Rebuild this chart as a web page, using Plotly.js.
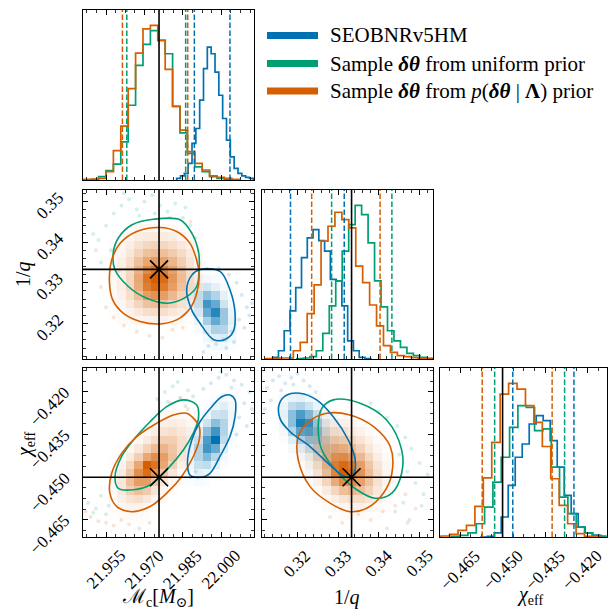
<!DOCTYPE html>
<html><head><meta charset="utf-8">
<script src="https://cdn.plot.ly/plotly-3.0.1.min.js"></script>
<style>body{margin:0;padding:0;background:#fff}#plot{width:608px;height:610px}</style>
</head><body><div id="plot"></div><script>
// ---------------- data ----------------
const seriesNames = ['SEOBNRv5HM',
  'Sample <b><i>δθ</i></b> from uniform prior',
  'Sample <b><i>δθ</i></b> from <i>p</i>(<b><i>δθ</i></b> | <b>Λ</b>) prior'];
const truthMc = 21.9757, truthQ = 0.3333, truthChi = -0.450;

const mcRange = [21.946, 22.0128];
const qXRange = [0.3113, 0.3533];
const qYRange = [0.3113, 0.3528];
const chiXRange = [-0.4721, -0.4133];
const chiYRange = [-0.4710, -0.4116];

const mcTicks = [21.955, 21.970, 21.985, 22.000];
const qTicks = [0.32, 0.33, 0.34, 0.35];
const chiTicks = [-0.465, -0.450, -0.435, -0.420];

// 1D histograms: bin start, bin width, heights
const mcBlueStart = 21.98259, mcBlueWidth = 0.0014974;
const mcBlueHist = [.01,.024,.039,.098,.216,.304,.471,.657,.784,.745,.637,.5,.363,.235,.137,.069,.039,.024,.016,.01];
const mcGreenStart = 21.94631, mcGreenWidth = 0.0028906;
const mcGreenHist = [0,.003,.02,.055,.094,.225,.441,.676,.80,.882,.824,.745,.435,.278,.157,.078,.049,.02,.01,.004];
const mcOrangeStart = 21.94631, mcOrangeWidth = 0.0028906;
const mcOrangeHist = [.004,.006,.01,.049,.173,.318,.539,.749,.892,.912,.824,.653,.435,.294,.167,.098,.059,.024,.016,.01,.004];

const qBlueStart = 0.31392, qBlueWidth = 0.0014169;
const qBlueHist = [.01,.049,.168,.286,.424,.602,.72,.769,.704,.641,.473,.464,.316,.108,.049,.01,.002];
const qGreenStart = 0.31988, qGreenWidth = 0.0015889;
const qGreenHist = [.002,.006,.014,.049,.152,.316,.464,.641,.799,.913,.858,.69,.464,.31,.168,.108,.069,.034,.02,.01,.004];
const qOrangeStart = 0.31218, qOrangeWidth = 0.0017035;
const qOrangeHist = [.002,.002,.006,.006,.049,.099,.27,.44,.70,.789,.872,.828,.779,.552,.454,.321,.197,.079,.039,.02,.014,.008,.004,.002];

const chiBlueStart = -0.45789, chiBlueWidth = 0.0024709;
const chiBlueHist = [0,.004,.024,.119,.307,.475,.554,.673,.723,.693,.574,.416,.248,.139,.059,.024,.01,.004,0];
const chiGreenStart = -0.46812, chiGreenWidth = 0.0029415;
const chiGreenHist = [.004,.01,.024,.079,.178,.327,.475,.653,.782,.772,.634,.644,.416,.238,.139,.059,.024,.01,.004];
const chiOrangeStart = -0.47466, chiOrangeWidth = 0.0029768;
const chiOrangeHist = [.002,.006,.016,.04,.069,.182,.352,.564,.851,.915,.881,.782,.683,.539,.347,.188,.079,.02,.004,0];

// 5% / 95% quantiles [blue, green, orange]
const mcQuant = [[21.9895, 22.0034], [21.9631, 21.9861], [21.9614, 21.9869]];
const qQuant = [[0.3183, 0.3315], [0.3284, 0.3432], [0.3235, 0.3403]];
const chiQuant = [[-0.4464, -0.4248], [-0.4528, -0.4281], [-0.4572, -0.4325]];

// 2D densities (20x20 bins over the axis range; sub-block: start row from top, start col)
const mcQOrange = [
 [0,0,.03,.05,.06,.06,.05,.04,.02,0,0],
 [0,.03,.06,.1,.12,.13,.12,.1,.07,.04,.02],
 [.02,.05,.1,.18,.24,.27,.25,.2,.14,.08,.04],
 [.03,.07,.15,.27,.38,.42,.4,.32,.22,.12,.05],
 [.04,.09,.2,.38,.55,.62,.58,.45,.3,.16,.07],
 [.04,.1,.24,.48,.72,.85,.78,.58,.38,.2,.08],
 [.04,.1,.26,.55,.85,1,.9,.65,.42,.22,.09],
 [.04,.1,.25,.52,.8,.92,.82,.6,.38,.2,.08],
 [.03,.08,.2,.4,.6,.68,.6,.44,.28,.15,.06],
 [.02,.06,.14,.26,.38,.42,.38,.28,.18,.1,.04],
 [.01,.04,.08,.14,.2,.22,.2,.15,.1,.05,.02],
 [0,.02,.04,.06,.08,.09,.08,.06,.04,.02,0]];
const mcQOrangeRow0 = 4, mcQOrangeCol0 = 3;
const mcQBlue = [
 [0,.03,.05,.03,0,0],
 [.03,.1,.18,.1,.03,0],
 [.04,.22,.45,.3,.1,.02],
 [.03,.22,.75,.6,.2,.04],
 [.02,.15,.6,.85,.4,.07],
 [0,.08,.35,.6,.4,.1],
 [0,.03,.15,.32,.3,.08],
 [0,0,.05,.12,.15,.05],
 [0,0,.02,.04,.05,.02]];
const mcQBlueRow0 = 10, mcQBlueCol0 = 12;

const mcChiOrange = [
 [0,0,0,0,0,.02,.04,.05,.04,.03,.01],
 [0,0,0,0,.02,.05,.09,.11,.09,.05,.02],
 [0,0,0,.02,.05,.1,.17,.2,.15,.08,.03],
 [0,0,.02,.05,.12,.22,.3,.3,.2,.09,.02],
 [0,.02,.05,.14,.28,.42,.45,.35,.2,.07,.01],
 [.01,.04,.12,.3,.55,.7,.6,.38,.16,.04,0],
 [.02,.08,.25,.55,1,.85,.55,.28,.09,.02,0],
 [.03,.12,.35,.7,.9,.65,.35,.14,.04,0,0],
 [.04,.15,.4,.6,.6,.38,.16,.05,.01,0,0],
 [.04,.14,.3,.4,.32,.17,.06,.02,0,0,0],
 [.03,.09,.17,.2,.14,.06,.02,0,0,0,0],
 [.02,.05,.08,.08,.05,.02,0,0,0,0,0],
 [.01,.02,.03,.03,.02,0,0,0,0,0,0]];
const mcChiOrangeRow0 = 5, mcChiOrangeCol0 = 3;
const mcChiBlue = [
 [0,0,0,.02,.05,.03],
 [0,0,.02,.08,.12,.05],
 [0,.02,.06,.2,.22,.06],
 [0,.04,.2,.45,.3,.05],
 [.02,.1,.45,.75,.3,.03],
 [.03,.2,.7,1,.25,.02],
 [.05,.3,.75,.6,.12,0],
 [.05,.3,.5,.28,.05,0],
 [.05,.22,.25,.1,.02,0],
 [.03,.1,.08,.03,0,0],
 [.01,.03,.02,0,0,0]];
const mcChiBlueRow0 = 3, mcChiBlueCol0 = 12;

const qChiOrange = [
 [0,.02,.03,.04,.04,.03,.02,0,0,0,0,0],
 [.02,.04,.07,.09,.1,.09,.06,.03,.01,0,0,0],
 [.03,.07,.12,.17,.2,.18,.13,.08,.04,.02,0,0],
 [.04,.1,.18,.28,.33,.32,.25,.16,.08,.03,.01,0],
 [.04,.11,.24,.4,.5,.5,.42,.28,.15,.06,.02,0],
 [.03,.1,.25,.48,.68,.72,.62,.44,.25,.11,.04,.01],
 [.02,.08,.22,.48,.8,.92,.82,.6,.36,.17,.06,.02],
 [.01,.05,.16,.4,.75,1,.9,.68,.42,.2,.07,.02],
 [0,.03,.09,.26,.52,.72,.72,.58,.38,.19,.07,.02],
 [0,.01,.04,.12,.26,.4,.45,.4,.28,.14,.05,.01],
 [0,0,.02,.05,.1,.17,.22,.22,.17,.09,.03,0],
 [0,0,0,.02,.04,.06,.08,.09,.07,.04,.01,0],
 [0,0,0,0,.01,.02,.03,.03,.02,.01,0,0]];
const qChiOrangeRow0 = 5, qChiOrangeCol0 = 4;
const qChiBlue = [
 [.03,.08,.1,.06,.02,0,0,0,0],
 [.08,.25,.3,.2,.08,.02,0,0,0],
 [.1,.45,.7,.5,.22,.06,.01,0,0],
 [.08,.45,.9,.8,.4,.12,.03,0,0],
 [.04,.3,.65,.7,.5,.2,.05,.01,0],
 [.02,.12,.32,.45,.42,.25,.08,.02,0],
 [0,.04,.12,.22,.28,.22,.1,.03,0],
 [0,.01,.04,.08,.14,.15,.1,.04,.01],
 [0,0,.01,.03,.05,.07,.06,.04,.01],
 [0,0,0,.01,.02,.03,.03,.02,0]];
const qChiBlueRow0 = 3, qChiBlueCol0 = 2;

// outlying samples (faint points outside the contours)
const mcQGreenPtsX = [21.952,21.955,21.958,21.961,21.964,21.967,21.970,21.973,21.976,21.979,21.982,21.985,21.988,21.957,21.962,21.968,21.974,21.980,21.986,21.953,21.950,21.990];
const mcQGreenPtsY = [0.3405,0.3440,0.3470,0.3490,0.3505,0.3480,0.3500,0.3515,0.3490,0.3475,0.3495,0.3460,0.3440,0.3380,0.3520,0.3465,0.3470,0.3460,0.3485,0.3350,0.3420,0.3410];
const mcQBluePtsX = [21.999,22.003,22.006,22.008,22.010,22.007,22.004,22.001,21.998,22.009,22.011,21.995,22.005,22.002,22.012,21.993];
const mcQBluePtsY = [0.3335,0.3320,0.3300,0.3270,0.3240,0.3210,0.3180,0.3160,0.3150,0.3190,0.3220,0.3145,0.3155,0.3140,0.3250,0.3130];
const mcQOrangePtsX = [21.955,21.958,21.962,21.967,21.972,21.977,21.981,21.953,21.960,21.985,21.951,21.988];
const mcQOrangePtsY = [0.3240,0.3215,0.3195,0.3180,0.3170,0.3165,0.3185,0.3290,0.3330,0.3190,0.3380,0.3450];

const mcChiGreenPtsX = [21.948,21.951,21.953,21.956,21.950,21.955,21.978,21.981,21.984,21.987,21.983,21.979,21.986,21.989,21.975];
const mcChiGreenPtsY = [-0.4590,-0.4610,-0.4565,-0.4600,-0.4625,-0.4630,-0.4200,-0.4180,-0.4220,-0.4195,-0.4165,-0.4235,-0.4250,-0.4215,-0.4225];
const mcChiOrangePtsX = [21.949,21.952,21.955,21.958,21.961,21.964,21.968,21.980,21.984,21.987,21.972,21.947];
const mcChiOrangePtsY = [-0.4640,-0.4655,-0.4660,-0.4670,-0.4650,-0.4665,-0.4680,-0.4240,-0.4225,-0.4260,-0.4660,-0.4620];
const mcChiBluePtsX = [21.993,21.996,21.999,22.002,22.005,22.008,22.011,22.009,22.007,22.010,22.006,21.990,21.988,22.012,22.000,22.004];
const mcChiBluePtsY = [-0.4190,-0.4170,-0.4150,-0.4140,-0.4160,-0.4175,-0.4200,-0.4240,-0.4290,-0.4320,-0.4350,-0.4480,-0.4500,-0.4260,-0.4130,-0.4185];

const qChiBluePtsX = [0.3125,0.3140,0.3155,0.3170,0.3185,0.3200,0.3215,0.3230,0.3245,0.3135,0.3160,0.3190,0.3120];
const qChiBluePtsY = [-0.4185,-0.4160,-0.4145,-0.4170,-0.4150,-0.4135,-0.4160,-0.4180,-0.4200,-0.4230,-0.4195,-0.4175,-0.4260];
const qChiGreenPtsX = [0.3400,0.3420,0.3445,0.3465,0.3480,0.3500,0.3470,0.3490,0.3510,0.3460,0.3440,0.3475,0.3505,0.3450,0.3380,0.3520];
const qChiGreenPtsY = [-0.4270,-0.4290,-0.4320,-0.4360,-0.4400,-0.4450,-0.4480,-0.4520,-0.4560,-0.4590,-0.4620,-0.4650,-0.4600,-0.4420,-0.4240,-0.4490];
const qChiOrangePtsX = [0.3350,0.3380,0.3410,0.3440,0.3465,0.3490,0.3310,0.3280,0.3420,0.3470];
const qChiOrangePtsY = [-0.4630,-0.4650,-0.4620,-0.4600,-0.4560,-0.4610,-0.4660,-0.4640,-0.4680,-0.4660];

// credible contours (outer level)
const mcQOrangeX = [21.9758,21.9826,21.9878,21.9904,21.9914,21.9904,21.9878,21.9826,21.9758,21.9683,21.9618,21.9576,21.9563,21.9572,21.9605,21.9670];
const mcQOrangeY = [0.3436,0.3426,0.3397,0.3356,0.3319,0.3274,0.3237,0.3209,0.3199,0.3205,0.3225,0.3258,0.3307,0.3356,0.3397,0.3426];
const mcQGreenX = [21.9735,21.9839,21.9885,21.9911,21.9914,21.9904,21.9865,21.9793,21.9709,21.9637,21.9585,21.9578,21.9598,21.9650];
const mcQGreenY = [0.3456,0.3455,0.3422,0.3377,0.3336,0.3291,0.3266,0.3250,0.3262,0.3291,0.3332,0.3373,0.3410,0.3442];
const mcQBlueX = [21.9917,21.9995,22.0034,22.0054,22.0047,22.0015,21.9969,21.9917,21.9885,21.9865,21.9885];
const mcQBlueY = [0.3333,0.3328,0.3283,0.3225,0.3180,0.3161,0.3161,0.3201,0.3233,0.3283,0.3319];

const mcChiOrangeX = [21.9865,21.9885,21.9914,21.9914,21.9891,21.9845,21.9787,21.9722,21.9650,21.9592,21.9565,21.9572,21.9611,21.9670,21.9748,21.9813];
const mcChiOrangeY = [-0.4275,-0.4287,-0.4322,-0.4369,-0.4427,-0.4498,-0.4556,-0.4603,-0.4621,-0.4603,-0.4556,-0.4486,-0.4416,-0.4357,-0.4310,-0.4281];
const mcChiGreenX = [21.9852,21.9904,21.9911,21.9891,21.9852,21.9787,21.9722,21.9657,21.9598,21.9585,21.9611,21.9657,21.9722,21.9787];
const mcChiGreenY = [-0.4228,-0.4246,-0.4293,-0.4345,-0.4404,-0.4474,-0.4527,-0.4544,-0.4539,-0.4498,-0.4427,-0.4369,-0.4305,-0.4252];
const mcChiBlueX = [22.0034,22.0054,22.0054,22.0034,21.9995,21.9956,21.9917,21.9878,21.9868,21.9885,21.9917,21.9963,22.0002];
const mcChiBlueY = [-0.4211,-0.4228,-0.4287,-0.4357,-0.4427,-0.4486,-0.4500,-0.4492,-0.4451,-0.4369,-0.4305,-0.4252,-0.4217];

const qChiBlueX = [0.3174,0.3206,0.3247,0.3288,0.3325,0.3342,0.3337,0.3317,0.3280,0.3231,0.3182,0.3157,0.3156];
const qChiBlueY = [-0.4211,-0.4205,-0.4228,-0.4287,-0.4369,-0.4439,-0.4492,-0.4498,-0.4457,-0.4392,-0.4340,-0.4293,-0.4240];
const qChiGreenX = [0.3288,0.3354,0.3419,0.3456,0.3456,0.3432,0.3391,0.3346,0.3301,0.3260,0.3251,0.3260];
const qChiGreenY = [-0.4228,-0.4240,-0.4299,-0.4404,-0.4486,-0.4556,-0.4574,-0.4544,-0.4486,-0.4404,-0.4322,-0.4258];
const qChiOrangeX = [0.3272,0.3329,0.3387,0.3428,0.3432,0.3411,0.3370,0.3329,0.3280,0.3231,0.3202,0.3202,0.3227];
const qChiOrangeY = [-0.4275,-0.4281,-0.4322,-0.4392,-0.4486,-0.4556,-0.4609,-0.4621,-0.4591,-0.4533,-0.4439,-0.4357,-0.4305];

// ---------------- style ----------------
const BLUE = '#0072B2', GREEN = '#009E73', ORANGE = '#D55E00';
const BLUE_RGB = '0,114,178', ORANGE_RGB = '213,94,0';
const SERIF = "'Liberation Serif', 'DejaVu Serif', serif";
const W = 608, H = 610;
const px = v => v / W, py = v => 1 - v / H;

const traces = [];
const shapes = [];
const annotations = [];

function stepTrace(start, width, counts, color, xa, ya) {
  const xs = [start], ys = [0];
  counts.forEach((c, i) => { xs.push(start + i * width); ys.push(c); });
  xs.push(start + counts.length * width); ys.push(0);
  traces.push({type: 'scatter', mode: 'lines', x: xs, y: ys, xaxis: xa, yaxis: ya,
    line: {color: color, width: 1.7, shape: 'hv'}, hoverinfo: 'skip'});
}
function heatTrace(grid, row0, col0, xr, yr, rgb, xa, ya) {
  const nb = 20, wx = (xr[1] - xr[0]) / nb, wy = (yr[1] - yr[0]) / nb;
  const xs = grid[0].map((_, c) => xr[0] + (col0 + c + 0.5) * wx);
  const ys = grid.map((_, r) => yr[1] - (row0 + r + 0.5) * wy).reverse();
  const z = grid.slice().reverse();
  traces.push({type: 'heatmap', x: xs, y: ys, z: z, xaxis: xa, yaxis: ya, zmin: 0, zmax: 1,
    zsmooth: false, showscale: false, hoverinfo: 'skip',
    colorscale: [[0, 'rgba(' + rgb + ',0)'], [1, 'rgba(' + rgb + ',1)']]});
}
function pointsTrace(xs, ys, color, xa, ya) {
  traces.push({type: 'scatter', mode: 'markers', x: xs, y: ys, xaxis: xa, yaxis: ya,
    marker: {color: color, size: 4, opacity: 0.16, line: {width: 0}}, hoverinfo: 'skip'});
}
function contourTrace(xs, ys, color, xa, ya) {
  traces.push({type: 'scatter', mode: 'lines', x: xs.concat([xs[0]]), y: ys.concat([ys[0]]),
    xaxis: xa, yaxis: ya, line: {color: color, width: 1.6, shape: 'spline', smoothing: 1},
    hoverinfo: 'skip'});
}
function truthMarker(x, y, xa, ya) {
  traces.push({type: 'scatter', mode: 'markers', x: [x], y: [y], xaxis: xa, yaxis: ya,
    marker: {symbol: 'x-thin', size: 18, line: {color: '#000', width: 1.7}}, hoverinfo: 'skip'});
}
function vLine(x, xa, ya, color, dash) {
  shapes.push({type: 'line', xref: xa, yref: ya + ' domain', x0: x, x1: x, y0: 0, y1: 1,
    line: {color: color || '#000', width: dash ? 1.5 : 1.6, dash: dash ? '5.5px,2.5px' : 'solid'}});
}
function hLine(y, xa, ya) {
  shapes.push({type: 'line', xref: xa + ' domain', yref: ya, x0: 0, x1: 1, y0: y, y1: y,
    line: {color: '#000', width: 1.6}});
}

// ---- diagonal: Mc ----
stepTrace(mcBlueStart, mcBlueWidth, mcBlueHist, BLUE, 'x', 'y');
stepTrace(mcGreenStart, mcGreenWidth, mcGreenHist, GREEN, 'x', 'y');
stepTrace(mcOrangeStart, mcOrangeWidth, mcOrangeHist, ORANGE, 'x', 'y');
// ---- (Mc, 1/q) ----
pointsTrace(mcQBluePtsX, mcQBluePtsY, BLUE, 'x2', 'y2');
pointsTrace(mcQGreenPtsX, mcQGreenPtsY, GREEN, 'x2', 'y2');
pointsTrace(mcQOrangePtsX, mcQOrangePtsY, ORANGE, 'x2', 'y2');
heatTrace(mcQBlue, mcQBlueRow0, mcQBlueCol0, mcRange, qYRange, BLUE_RGB, 'x2', 'y2');
heatTrace(mcQOrange, mcQOrangeRow0, mcQOrangeCol0, mcRange, qYRange, ORANGE_RGB, 'x2', 'y2');
contourTrace(mcQGreenX, mcQGreenY, GREEN, 'x2', 'y2');
contourTrace(mcQOrangeX, mcQOrangeY, ORANGE, 'x2', 'y2');
contourTrace(mcQBlueX, mcQBlueY, BLUE, 'x2', 'y2');
truthMarker(truthMc, truthQ, 'x2', 'y2');
// ---- diagonal: 1/q ----
stepTrace(qBlueStart, qBlueWidth, qBlueHist, BLUE, 'x3', 'y3');
stepTrace(qGreenStart, qGreenWidth, qGreenHist, GREEN, 'x3', 'y3');
stepTrace(qOrangeStart, qOrangeWidth, qOrangeHist, ORANGE, 'x3', 'y3');
// ---- (Mc, chi) ----
pointsTrace(mcChiBluePtsX, mcChiBluePtsY, BLUE, 'x4', 'y4');
pointsTrace(mcChiGreenPtsX, mcChiGreenPtsY, GREEN, 'x4', 'y4');
pointsTrace(mcChiOrangePtsX, mcChiOrangePtsY, ORANGE, 'x4', 'y4');
heatTrace(mcChiBlue, mcChiBlueRow0, mcChiBlueCol0, mcRange, chiYRange, BLUE_RGB, 'x4', 'y4');
heatTrace(mcChiOrange, mcChiOrangeRow0, mcChiOrangeCol0, mcRange, chiYRange, ORANGE_RGB, 'x4', 'y4');
contourTrace(mcChiGreenX, mcChiGreenY, GREEN, 'x4', 'y4');
contourTrace(mcChiOrangeX, mcChiOrangeY, ORANGE, 'x4', 'y4');
contourTrace(mcChiBlueX, mcChiBlueY, BLUE, 'x4', 'y4');
truthMarker(truthMc, truthChi, 'x4', 'y4');
// ---- (1/q, chi) ----
pointsTrace(qChiBluePtsX, qChiBluePtsY, BLUE, 'x5', 'y5');
pointsTrace(qChiGreenPtsX, qChiGreenPtsY, GREEN, 'x5', 'y5');
pointsTrace(qChiOrangePtsX, qChiOrangePtsY, ORANGE, 'x5', 'y5');
heatTrace(qChiBlue, qChiBlueRow0, qChiBlueCol0, qXRange, chiYRange, BLUE_RGB, 'x5', 'y5');
heatTrace(qChiOrange, qChiOrangeRow0, qChiOrangeCol0, qXRange, chiYRange, ORANGE_RGB, 'x5', 'y5');
contourTrace(qChiGreenX, qChiGreenY, GREEN, 'x5', 'y5');
contourTrace(qChiOrangeX, qChiOrangeY, ORANGE, 'x5', 'y5');
contourTrace(qChiBlueX, qChiBlueY, BLUE, 'x5', 'y5');
truthMarker(truthQ, truthChi, 'x5', 'y5');
// ---- diagonal: chi ----
stepTrace(chiBlueStart, chiBlueWidth, chiBlueHist, BLUE, 'x6', 'y6');
stepTrace(chiGreenStart, chiGreenWidth, chiGreenHist, GREEN, 'x6', 'y6');
stepTrace(chiOrangeStart, chiOrangeWidth, chiOrangeHist, ORANGE, 'x6', 'y6');

// quantile lines
const qColors = [BLUE, GREEN, ORANGE];
mcQuant.forEach((q, i) => q.forEach(v => vLine(v, 'x', 'y', qColors[i], true)));
qQuant.forEach((q, i) => q.forEach(v => vLine(v, 'x3', 'y3', qColors[i], true)));
chiQuant.forEach((q, i) => q.forEach(v => vLine(v, 'x6', 'y6', qColors[i], true)));
// truth lines
vLine(truthMc, 'x', 'y'); vLine(truthMc, 'x2', 'y2'); vLine(truthMc, 'x4', 'y4');
vLine(truthQ, 'x3', 'y3'); vLine(truthQ, 'x5', 'y5'); vLine(truthChi, 'x6', 'y6');
hLine(truthQ, 'x2', 'y2'); hLine(truthChi, 'x4', 'y4'); hLine(truthChi, 'x5', 'y5');

// ---------------- axes ----------------
const col1 = [px(83), px(254)], col2 = [px(262), px(433)], col3 = [px(440), px(606.5)];
const row1 = [py(180), py(10)], row2 = [py(359), py(190)], row3 = [py(537), py(368)];
const mcTickSpec = {t0: 21.955, d: 0.015, m: 0.00375};
const qTickSpec = {t0: 0.32, d: 0.01, m: 0.002};
const chiTickSpec = {t0: -0.465, d: 0.015, m: 0.00375};

function axis(domain, range, anchor, tick) {
  const a = {domain: domain, range: range, anchor: anchor, showline: true, mirror: 'ticks',
    linecolor: '#000', linewidth: 1.3, showgrid: false, zeroline: false,
    showticklabels: false, fixedrange: true};
  if (tick) {
    Object.assign(a, {ticks: 'inside', ticklen: 5, tickwidth: 1, tickcolor: '#000',
      tickmode: 'linear', tick0: tick.t0, dtick: tick.d,
      minor: {ticks: 'inside', ticklen: 2.8, tickwidth: 0.8, tickcolor: '#000',
        tick0: tick.t0, dtick: tick.m, showgrid: false}});
  } else { a.ticks = ''; }
  return a;
}
const maxOf = arrs => Math.max.apply(null, [].concat.apply([], arrs));
const yMc = [0, 1.1 * maxOf([mcBlueHist, mcGreenHist, mcOrangeHist])];
const yQ = [0, 1.1 * maxOf([qBlueHist, qGreenHist, qOrangeHist])];
const yChi = [0, 1.1 * maxOf([chiBlueHist, chiGreenHist, chiOrangeHist])];

const layout = {
  width: W, height: H, margin: {l: 0, r: 0, t: 0, b: 0},
  paper_bgcolor: '#fff', plot_bgcolor: 'rgba(0,0,0,0)', showlegend: false,
  xaxis: axis(col1, mcRange, 'y', mcTickSpec), yaxis: axis(row1, yMc, 'x', null),
  xaxis2: axis(col1, mcRange, 'y2', mcTickSpec), yaxis2: axis(row2, qYRange, 'x2', qTickSpec),
  xaxis3: axis(col2, qXRange, 'y3', qTickSpec), yaxis3: axis(row2, yQ, 'x3', null),
  xaxis4: axis(col1, mcRange, 'y4', mcTickSpec), yaxis4: axis(row3, chiYRange, 'x4', chiTickSpec),
  xaxis5: axis(col2, qXRange, 'y5', qTickSpec), yaxis5: axis(row3, chiYRange, 'x5', chiTickSpec),
  xaxis6: axis(col3, chiXRange, 'y6', chiTickSpec), yaxis6: axis(row3, yChi, 'x6', null),
  shapes: shapes, annotations: annotations
};

// tick labels
const tickFont = {family: SERIF, size: 17, color: '#000'};
const fmtMc = v => v.toFixed(3), fmtQ = v => v.toFixed(2);
const fmtChi = v => (v < 0 ? '\u2212' : '') + Math.abs(v).toFixed(3);
function xTickLabels(vals, fmt, xa, shiftX) {
  vals.forEach((v, i) => annotations.push({x: v, xref: xa, y: py(545), yref: 'paper', text: fmt(v),
    textangle: -45, xanchor: 'center', yanchor: 'top', showarrow: false, font: tickFont, borderpad: 0,
    xshift: shiftX ? shiftX[i] : 0}));
}
function yTickLabels(vals, fmt, ya, shift) {
  vals.forEach(v => annotations.push({x: px(50), xref: 'paper', y: v, yref: ya, text: fmt(v),
    textangle: -45, xanchor: 'center', yanchor: 'middle', yshift: shift, showarrow: false,
    font: tickFont, borderpad: 0}));
}
xTickLabels(mcTicks, fmtMc, 'x4');
xTickLabels(qTicks, fmtQ, 'x5');
xTickLabels(chiTicks, fmtChi, 'x6', [0, 0, 0, -6]);
yTickLabels(qTicks, fmtQ, 'y2', -4);
yTickLabels(chiTicks, fmtChi, 'y4', -15);

// axis titles
const labFont = {family: SERIF, size: 20, color: '#000'};
function title(text, x, y, angle) {
  annotations.push({x: px(x), y: py(y), xref: 'paper', yref: 'paper', showarrow: false,
    xanchor: 'center', yanchor: 'middle', text: text, textangle: angle || 0, font: labFont});
}
title('ℳ<sub>c</sub>[<i>M</i><sub>⊙</sub>]', 158, 597);
title('1/<i>q</i>', 347, 597);
title('<i>χ</i><sub>eff</sub>', 530, 595);
title('1/<i>q</i>', 23, 274, -90);
title('<i>χ</i><sub>eff</sub>', 25, 445, -90);

// legend (drawn manually)
const legColors = [BLUE, GREEN, ORANGE];
const legRows = [35.5, 63.5, 91];
seriesNames.forEach((name, i) => {
  shapes.push({type: 'line', xref: 'paper', yref: 'paper', x0: px(267), x1: px(318),
    y0: py(legRows[i]), y1: py(legRows[i]), line: {color: legColors[i], width: 7}});
  annotations.push({x: px(328), y: py(legRows[i]), xref: 'paper', yref: 'paper', showarrow: false,
    xanchor: 'left', yanchor: 'middle', text: name, font: {family: SERIF, size: 21, color: '#000'}});
});

Plotly.newPlot('plot', traces, layout, {staticPlot: true, displayModeBar: false});
</script></body></html>
